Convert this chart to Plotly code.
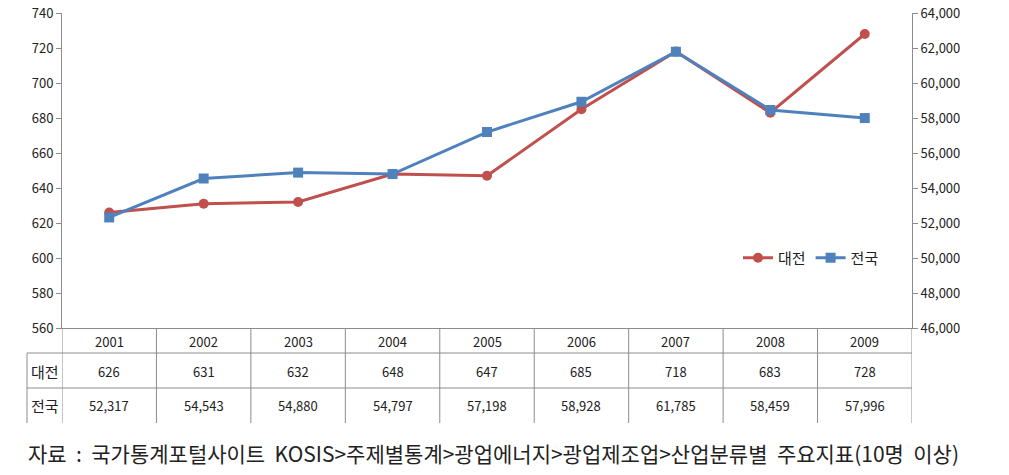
import plotly.graph_objects as go

# data
years = ['2001', '2002', '2003', '2004', '2005', '2006', '2007', '2008', '2009']
daejeon = [626, 631, 632, 648, 647, 685, 718, 683, 728]
national = [52317, 54543, 54880, 54797, 57198, 58928, 61785, 58459, 57996]
source_note = '자료\u00a0\u00a0:\u00a0\u00a0국가통계포털사이트\u00a0\u00a0KOSIS>주제별통계>광업에너지>광업제조업>산업분류별\u00a0\u00a0주요지표(10명\u00a0\u00a0이상)'

RED = '#C0504D'
BLUE = '#4F81BD'
GRID = '#8C8C8C'
FONT = 'Noto Sans CJK KR'

W, H = 1009, 475
L, T = 62, 13
PW, PH = 850, 315
R, B = W - L - PW, H - T - PH


def py(pix):
    # pixel row -> paper y
    return (T + PH - pix) / PH


def px(pix):
    return (pix - L) / PW


xs = list(range(len(years)))

fig = go.Figure()
fig.add_trace(go.Scatter(x=xs, y=daejeon, name='대전', mode='lines+markers',
                         line=dict(color=RED, width=3),
                         marker=dict(symbol='circle', size=10, color=RED)))
fig.add_trace(go.Scatter(x=xs, y=national, name='전국', mode='lines+markers', yaxis='y2',
                         line=dict(color=BLUE, width=3),
                         marker=dict(symbol='square', size=10, color=BLUE)))

shapes = []
line = dict(color=GRID, width=1)
# horizontal table lines
shapes.append(dict(type='line', xref='paper', yref='paper', x0=0, x1=1, y0=py(353), y1=py(353), line=line))
shapes.append(dict(type='line', xref='paper', yref='paper', x0=px(27), x1=0, y0=py(353), y1=py(353), line=line))
shapes.append(dict(type='line', xref='paper', yref='paper', x0=px(27), x1=1, y0=py(388), y1=py(388), line=line))
# vertical table lines
shapes.append(dict(type='line', xref='paper', yref='paper', x0=px(27), x1=px(27), y0=py(353), y1=py(423), line=line))
for i in range(len(years) + 1):
    shapes.append(dict(type='line', xref='x', yref='paper', x0=i - 0.5, x1=i - 0.5,
                       y0=0, y1=py(423), line=line))

annotations = []
tfont = dict(family=FONT, size=13, color='#222')
cell = dict(showarrow=False, xanchor='center', yanchor='middle', font=tfont)
for i, yr in enumerate(years):
    annotations.append(dict(x=i, y=py(341), xref='x', yref='paper', text=yr, **cell))
    annotations.append(dict(x=i, y=py(371), xref='x', yref='paper', text=f'{daejeon[i]:,}', **cell))
    annotations.append(dict(x=i, y=py(405), xref='x', yref='paper', text=f'{national[i]:,}', **cell))
for label, row in [('대전', 371), ('전국', 405)]:
    annotations.append(dict(x=px(44.5), y=py(row), xref='paper', yref='paper', text=label,
                            showarrow=False, xanchor='center', yanchor='middle',
                            font=dict(family=FONT, size=15, color='#222')))
annotations.append(dict(x=px(26), y=py(453), xref='paper', yref='paper', text=source_note,
                        showarrow=False, xanchor='left', yanchor='middle',
                        font=dict(family=FONT, size=21, color='#222')))

fig.update_layout(
    width=W, height=H,
    margin=dict(l=L, r=R, t=T, b=B, pad=0),
    paper_bgcolor='white', plot_bgcolor='white',
    font=dict(family=FONT, size=13, color='#222'),
    xaxis=dict(range=[-0.5, len(years) - 0.5], showticklabels=False, showgrid=False,
               zeroline=False, showline=True, linecolor=GRID, ticks='', automargin=False),
    yaxis=dict(range=[560, 740], dtick=20, showgrid=False, zeroline=False, automargin=False,
               showline=True, linecolor=GRID, ticks='outside', ticklen=5, tickcolor=GRID,
               ticklabeloverflow='allow'),
    yaxis2=dict(range=[46000, 64000], dtick=2000, tickformat=',', overlaying='y', side='right',
                showgrid=False, zeroline=False, showline=True, linecolor=GRID, automargin=False,
                ticks='outside', ticklen=5, tickcolor=GRID, ticklabeloverflow='allow'),
    legend=dict(orientation='h', x=px(738), y=py(258), xanchor='left', yanchor='middle',
                font=dict(family=FONT, size=15), bgcolor='rgba(0,0,0,0)'),
    shapes=shapes,
    annotations=annotations,
)

# drop the default page margin so the figure sits at the window's top-left corner
fig.write_html('out.html', config={'displayModeBar': False},
               post_script="document.body.style.margin='0';")
